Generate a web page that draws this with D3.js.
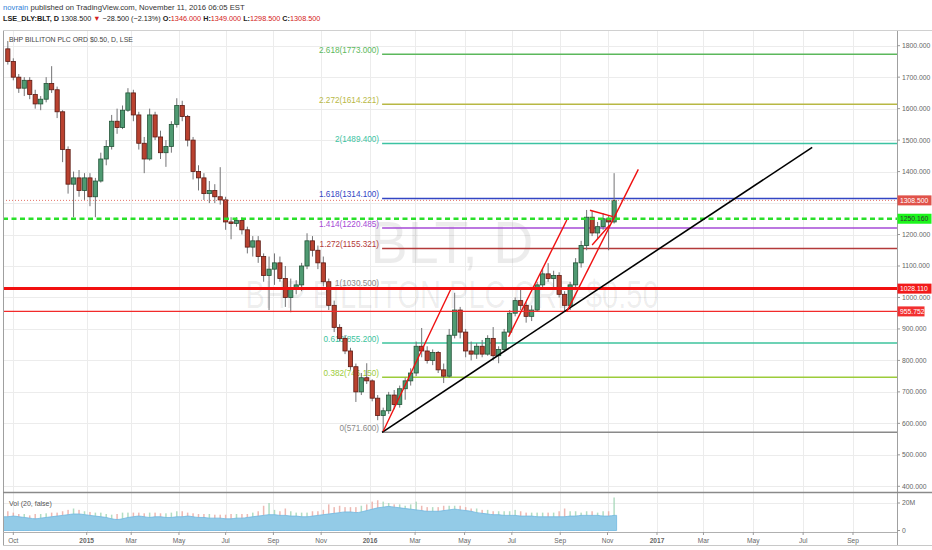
<!DOCTYPE html>
<html><head><meta charset="utf-8">
<script src="https://cdn.jsdelivr.net/npm/d3@7"></script>
<style>
html,body{margin:0;padding:0;background:#fff;}
svg{display:block;font-family:"Liberation Sans",Arial,sans-serif;}
</style></head><body>
<svg id="c" width="932" height="550"></svg>
<script>
// ---------------- DATA ----------------
const weekStart = "2014-09-22"; // first weekly candle (Monday)
const opens  = [1790,1750,1700,1665,1690,1645,1615,1630,1680,1660,1590,1470,1360,1380,1340,1380,1320,1370,1440,1480,1560,1540,1595,1650,1580,1490,1440,1580,1510,1460,1480,1550,1610,1575,1500,1400,1380,1330,1340,1320,1310,1240,1235,1245,1215,1160,1180,1130,1070,1090,1110,1060,1000,1030,1040,1100,1180,1150,1110,1050,975,905,870,830,780,700,745,735,680,625,640,690,660,710,735,760,845,830,800,825,770,750,880,960,890,830,820,845,820,870,815,835,890,950,990,975,940,960,1040,1075,1060,1070,1010,975,1040,1110,1165,1255,1205,1225,1250,1240];
const highs  = [1815,1760,1710,1700,1700,1660,1640,1700,1735,1670,1595,1480,1400,1405,1395,1395,1380,1460,1500,1580,1600,1610,1665,1660,1590,1510,1600,1590,1530,1500,1560,1633,1625,1580,1510,1420,1395,1370,1360,1414,1320,1255,1255,1255,1225,1195,1195,1140,1130,1140,1130,1100,1060,1055,1110,1204,1195,1165,1130,1060,990,915,880,840,790,760,791,740,690,650,700,706,720,745,775,860,903,845,835,830,790,900,1015,970,900,860,855,865,880,906,845,900,960,1000,1025,985,975,1050,1090,1109,1085,1080,1020,1050,1125,1180,1278,1275,1240,1268,1260,1395];
const lows   = [1740,1690,1650,1640,1630,1600,1595,1620,1650,1570,1430,1330,1255,1320,1310,1290,1255,1365,1420,1470,1520,1535,1590,1560,1470,1395,1435,1500,1440,1415,1460,1540,1560,1480,1375,1340,1310,1300,1300,1295,1215,1185,1225,1200,1140,1130,1110,1050,960,1040,1050,970,953,1010,1020,1090,1130,1090,1035,960,890,860,820,770,668,690,725,670,610,571.6,630,645,650,675,720,750,810,790,785,760,728,745,870,870,810,800,805,810,815,800,791,830,880,940,960,920,925,955,1030,1050,1030,1000,955,960,1030,1095,1150,1195,1185,1215,1150,1235];
const closes = [1750,1700,1665,1690,1645,1615,1630,1680,1660,1590,1470,1360,1380,1340,1380,1320,1370,1440,1480,1560,1540,1595,1650,1580,1490,1440,1580,1510,1460,1480,1550,1610,1575,1500,1400,1380,1330,1340,1320,1310,1240,1235,1245,1215,1160,1180,1130,1070,1090,1110,1060,1000,1030,1040,1100,1180,1150,1110,1050,975,905,870,830,780,700,745,735,680,625,640,690,660,710,735,760,845,830,800,825,770,750,880,960,890,830,820,845,820,870,815,835,890,950,990,975,940,960,1040,1075,1060,1070,1010,975,1040,1110,1165,1255,1205,1225,1250,1240,1308.5];
const volMA   = [10,10.5,10,9.5,9,8.5, 9,9.5,10,10.5,11,11.5,12, 12,11.5,11,10.5, 10,9.5,8.5,8,8.5,9.5, 10,10.5,10,9.5,10,10,9.5,9.5,10,10,10.5,10,9.5,9.5,9,9, 9,8.5,8.5,9,9,9.5,10, 10.5,11,11.5,11.5,11,11,10.5, 10.5,10,10,10.5,11,11.5, 12,12.5,13,13.5,13.5,13,13.5,14.5, 15.5,16.5,17,17.5,17,16.5,16,15.5,15,14.5, 14,14,14,14.5,15,15.5, 15,14.5,14,13,12.5,12,11.5,11.5, 11,11,11,10.5,10.5,10.5,10,10,10,10, 10,10,10.5,10.5,11,11,11,11,10.5,10.5,11];
const volPeak = [14,13,12,12,11,12,12,12.5,13,13,14,15,16,15, 14,13.5,13,13,12,11.5,12,13,13,13,13,12.5,13,13, 12.5,12.5,13,14,14,13,12.5,12,12,12,11.5,11.5,11.5,12, 12,12,12,13,14,18,20,15,14,16,14,13,13,13, 14,14,15,19,17,18,17,17,17,18,19,21,22,21, 20,19,19,18,19,21,18,17,17,17,18,18,18,18, 17,16,16,15,15,14,14,14,14,15,14,13,13,13, 13,13,13,14,16,14,14,13,14,14,13,14,14,24];
const priceTicks = [400,500,600,700,800,900,1000,1100,1200,1300,1400,1500,1600,1700,1800];
const volTicks = [0,20];
const volTickLabels = ["0","20M"];
const timeTicks = ["2014-10-01","2015-01-02","2015-03-02","2015-05-01","2015-07-01","2015-09-01","2015-11-02","2016-01-04","2016-03-01","2016-05-03","2016-07-01","2016-09-01","2016-11-01","2017-01-03","2017-03-01","2017-05-02","2017-07-03","2017-09-01"];
const timeTickLabels = ["Oct","2015","Mar","May","Jul","Sep","Nov","2016","Mar","May","Jul","Sep","Nov","2017","Mar","May","Jul","Sep"];
const fibBaseDate = "2016-01-19";
const fibLevels = [0,0.382,0.618,1,1.272,1.414,1.618,2,2.272,2.618];
const fibPrices = [571.6,746.15,855.2,1030.5,1155.321,1220.485,1314.1,1489.4,1614.221,1773.0];
const hLinePrices = [1250.16,1028.11,955.752];
const lastPrice = 1308.5;
const trendLines = [ // [startDate, startPrice, endDate, endPrice]
  ["2016-01-19",571.6,"2017-07-13",1477],
  ["2016-01-20",575,"2016-04-15",1030],
  ["2016-06-28",875,"2016-09-09",1246],
  ["2016-09-09",955,"2016-12-09",1407],
  ["2016-10-10",1277,"2016-11-08",1257],
  ["2016-10-12",1167,"2016-11-03",1230]
];
const headerLine1 = ["novrain"," published on TradingView.com, November 11, 2016 06:05 EST"];
const headerLine2 = ["LSE_DLY:BLT, D ","1308.500 ","\u25BC"," \u221228.500 (\u22122.13%) ","O:","1346.000"," H:","1349.000"," L:","1298.500"," C:","1308.500"];
const symbolTitle = "BHP BILLITON PLC ORD $0.50, D, LSE";
const watermark1 = "BLT, D";
const watermark2 = "BHP BILLITON PLC ORD $0.50";
const volLegend = "Vol (20, false)";

// ---------------- STYLES / LAYOUT ----------------
const fibColors = ["#8a8a8a","#9ccc3a","#3cc39c","#8a8a8a","#b33a3a","#a64ad6","#3346c4","#3cc3a2","#b8b844","#5cb85c"];
const trendColors = ["#000","#f01010","#f01010","#f01010","#f01010","#f01010"];
const L=3, R=897, TOP=30, MAINB=492, VOLB=532, BOT=545;

const svg=d3.select("#c");
const parse=d3.utcParse("%Y-%m-%d");
function wd(d){const base=Date.UTC(2014,9,1);const days=Math.round((d-base)/864e5);const wk=Math.floor(days/7);const r=days-wk*7;return wk*5+[0,1,2,2.5,2.5,3,4][r];}
const x=d3.scaleLinear().domain([0,67,328,589,762]).range([13.3,86.7,370,657,853]);
const xd=s=>x(wd(typeof s==="string"?parse(s):s));
const y=d3.scaleLinear().domain([400,1800]).range([486.3,45.7]);
const yv=d3.scaleLinear().domain([0,20]).range([530.5,503]);

const n=closes.length;
const weekDates=d3.range(n).map(i=>d3.utcDay.offset(parse(weekStart),7*i+2));
const bars=weekDates.map((d,i)=>({x:xd(d),o:opens[i],h:highs[i],l:lows[i],c:closes[i],vm:volMA[i],vp:volPeak[i]}));

svg.append("rect").attr("width",932).attr("height",550).attr("fill","#fff");
const defs=svg.append("defs");
defs.append("clipPath").attr("id","cm").append("rect").attr("x",L).attr("y",TOP).attr("width",R-L).attr("height",MAINB-TOP);
defs.append("clipPath").attr("id","cv").append("rect").attr("x",L).attr("y",MAINB).attr("width",R-L).attr("height",VOLB-MAINB);

// grid
const grid=svg.append("g").attr("stroke","#ececec").attr("stroke-width",1);
grid.selectAll("line.h").data(priceTicks).join("line").attr("x1",L).attr("x2",R).attr("y1",d=>Math.round(y(d))+0.5).attr("y2",d=>Math.round(y(d))+0.5);
grid.selectAll("line.v").data(timeTicks).join("line").attr("x1",d=>Math.round(xd(d))+0.5).attr("x2",d=>Math.round(xd(d))+0.5).attr("y1",TOP).attr("y2",VOLB);
grid.append("line").attr("x1",L).attr("x2",R).attr("y1",Math.round(yv(20))+0.5).attr("y2",Math.round(yv(20))+0.5);

// watermark
const cx=(L+R)/2+2;
svg.append("text").attr("x",cx).attr("y",263).attr("text-anchor","middle").attr("font-size",60).attr("fill","#000").attr("fill-opacity",0.075)
  .attr("textLength",163).attr("lengthAdjust","spacingAndGlyphs").text(watermark1);
svg.append("text").attr("x",cx).attr("y",307.5).attr("text-anchor","middle").attr("font-size",38).attr("fill","#000").attr("fill-opacity",0.075)
  .attr("textLength",413).attr("lengthAdjust","spacingAndGlyphs").text(watermark2);

const main=svg.append("g").attr("clip-path","url(#cm)");
// fib lines + labels (below candles)
const fx=xd(fibBaseDate);
fibPrices.forEach((p,i)=>{
  main.append("line").attr("x1",fx).attr("x2",R).attr("y1",y(p)).attr("y2",y(p)).attr("stroke",fibColors[i]).attr("stroke-width",1.5);
  main.append("text").attr("x",fx-3).attr("y",y(p)-1.5).attr("text-anchor","end").attr("font-size",8.2).attr("fill",fibColors[i])
    .text(`${fibLevels[i]}(${p.toFixed(3)})`);
});

// volume
const vol=svg.append("g").attr("clip-path","url(#cv)");
vol.selectAll("rect.vb").data(bars).join("rect").attr("x",d=>d.x-0.75).attr("width",1.5)
  .attr("y",d=>yv(d.vp)).attr("height",d=>yv(0)-yv(d.vp))
  .attr("fill",d=>d.c>=d.o?"#9fd4b4":"#e8a8a0").attr("opacity",0.8);
const area=d3.area().x(d=>d.x).y0(yv(0)).y1(d=>yv(d.vm)).curve(d3.curveMonotoneX);
const vdata=[{x:L,vm:bars[0].vm}].concat(bars).concat([{x:bars[n-1].x+2.5,vm:bars[n-1].vm}]);
vol.append("path").datum(vdata).attr("d",area).attr("fill","#93cbe7").attr("stroke","#6fb6df").attr("stroke-width",0.8);

// candles
const cw=4.2;
const cg=main.append("g");
cg.selectAll("line.w").data(bars).join("line").attr("x1",d=>d.x).attr("x2",d=>d.x).attr("y1",d=>y(d.h)).attr("y2",d=>y(d.l)).attr("stroke","#737375").attr("stroke-width",1);
cg.selectAll("rect.b").data(bars).join("rect").attr("x",d=>d.x-cw/2).attr("width",cw)
  .attr("y",d=>y(Math.max(d.o,d.c))).attr("height",d=>Math.max(1,Math.abs(y(d.o)-y(d.c))))
  .attr("fill",d=>d.c>=d.o?"#4f9a72":"#b9412f").attr("stroke",d=>d.c>=d.o?"#225437":"#5b1a13").attr("stroke-width",0.8);

// horizontal lines
main.append("line").attr("x1",L).attr("x2",R).attr("y1",y(lastPrice)).attr("y2",y(lastPrice)).attr("stroke","#e57368").attr("stroke-width",1).attr("stroke-dasharray","1,2");
main.append("line").attr("x1",L).attr("x2",R).attr("y1",y(hLinePrices[0])).attr("y2",y(hLinePrices[0])).attr("stroke","#29e029").attr("stroke-width",2.6).attr("stroke-dasharray","5,3.5");
main.append("line").attr("x1",L).attr("x2",R).attr("y1",y(hLinePrices[1])).attr("y2",y(hLinePrices[1])).attr("stroke","#f21010").attr("stroke-width",3);
main.append("line").attr("x1",L).attr("x2",R).attr("y1",y(hLinePrices[2])).attr("y2",y(hLinePrices[2])).attr("stroke","#f22a2a").attr("stroke-width",1.4);

// trend lines
trendLines.forEach((t,i)=>{
  main.append("line").attr("x1",xd(t[0])).attr("y1",y(t[1])).attr("x2",xd(t[2])).attr("y2",y(t[3])).attr("stroke",trendColors[i]).attr("stroke-width",i===0?1.6:1.4);
});

// frames
const fr=svg.append("g").attr("stroke","#a0a0a0").attr("fill","none");
fr.append("line").attr("x1",L+0.5).attr("x2",L+0.5).attr("y1",TOP).attr("y2",BOT);
fr.append("line").attr("x1",R+0.5).attr("x2",R+0.5).attr("y1",TOP).attr("y2",BOT);
fr.append("line").attr("x1",L).attr("x2",932).attr("y1",TOP+0.5).attr("y2",TOP+0.5).attr("stroke","#d0d0d0");
fr.append("line").attr("x1",L).attr("x2",932).attr("y1",MAINB+0.5).attr("y2",MAINB+0.5).attr("stroke","#8a8a8a").attr("stroke-width",1.3);
fr.append("line").attr("x1",L).attr("x2",R).attr("y1",VOLB+0.5).attr("y2",VOLB+0.5).attr("stroke","#b0b0b0");
fr.append("line").attr("x1",L).attr("x2",932).attr("y1",BOT+0.5).attr("y2",BOT+0.5).attr("stroke","#c8c8c8");

// price boxes (positions)
const boxes=[[lastPrice,"#e0524a","#fff",34],[hLinePrices[0],"#1cf51c","#333",34],[hLinePrices[1],"#f21a1a","#fff",34],[hLinePrices[2],"#f23030","#fff",27]];
const boxYs=boxes.map(b=>y(b[0]));

// price axis
const ax=svg.append("g").attr("font-size",6.8).attr("fill","#666");
priceTicks.forEach(p=>{
  ax.append("line").attr("x1",R).attr("x2",R+3).attr("y1",y(p)).attr("y2",y(p)).attr("stroke","#999");
  if(boxYs.some(by=>Math.abs(by-y(p))<7)) return; // hidden under a price box
  ax.append("text").attr("x",R+5).attr("y",y(p)+2.4).text(p.toFixed(3));
});
volTicks.forEach((v,i)=>{
  ax.append("line").attr("x1",R).attr("x2",R+3).attr("y1",yv(v)).attr("y2",yv(v)).attr("stroke","#999");
  ax.append("text").attr("x",R+5).attr("y",yv(v)+2.4).text(volTickLabels[i]);
});
boxes.forEach(b=>{
  const yy=y(b[0]);
  svg.append("rect").attr("x",R+0.5).attr("y",yy-5).attr("width",b[3]).attr("height",10).attr("fill",b[1]);
  svg.append("text").attr("x",R+3).attr("y",yy+2.4).attr("font-size",6.8).attr("fill",b[2]).text(b[0].toFixed(3));
});

// time axis
const tx=svg.append("g").attr("font-size",6.6).attr("fill","#666").attr("text-anchor","middle");
timeTicks.forEach((t,i)=>{
  const xx=xd(t);
  tx.append("line").attr("x1",xx).attr("x2",xx).attr("y1",VOLB).attr("y2",VOLB+3).attr("stroke","#999");
  tx.append("text").attr("x",xx).attr("y",543).attr("font-weight",/^\d/.test(timeTickLabels[i])?"bold":"normal").text(timeTickLabels[i]);
});

// fit helper: scale font so that text spans the target width
function fitText(t, target){
  const w=t.node().getComputedTextLength();
  const fs=+t.attr("font-size");
  if(w>0) t.attr("font-size", (fs*target/w).toFixed(2));
}

// legends
const st=svg.append("text").attr("x",9).attr("y",42.3).attr("font-size",7).attr("fill","#444").text(symbolTitle);
fitText(st,124);
svg.append("text").attr("x",9).attr("y",506).attr("font-size",7).attr("fill","#555").text(volLegend);

// header
const h1=svg.append("text").attr("x",3).attr("y",9.6).attr("font-size",8).style("white-space","pre");
h1.append("tspan").attr("fill","#2f7fd8").text(headerLine1[0]);
h1.append("tspan").attr("fill","#333").text(headerLine1[1]);
fitText(h1,242);
const h2=svg.append("text").attr("x",3).attr("y",20.6).attr("font-size",8).style("white-space","pre");
const h2col=["#222","#222","#d32020","#222","#222","#d32020","#222","#d32020","#222","#d32020","#222","#d32020"];
const h2w=["bold","normal","normal","normal","bold","normal","bold","normal","bold","normal","bold","normal"];
headerLine2.forEach((s,i)=>h2.append("tspan").attr("fill",h2col[i]).attr("font-weight",h2w[i]).text(s));
fitText(h2,318);
</script>
</body></html>
